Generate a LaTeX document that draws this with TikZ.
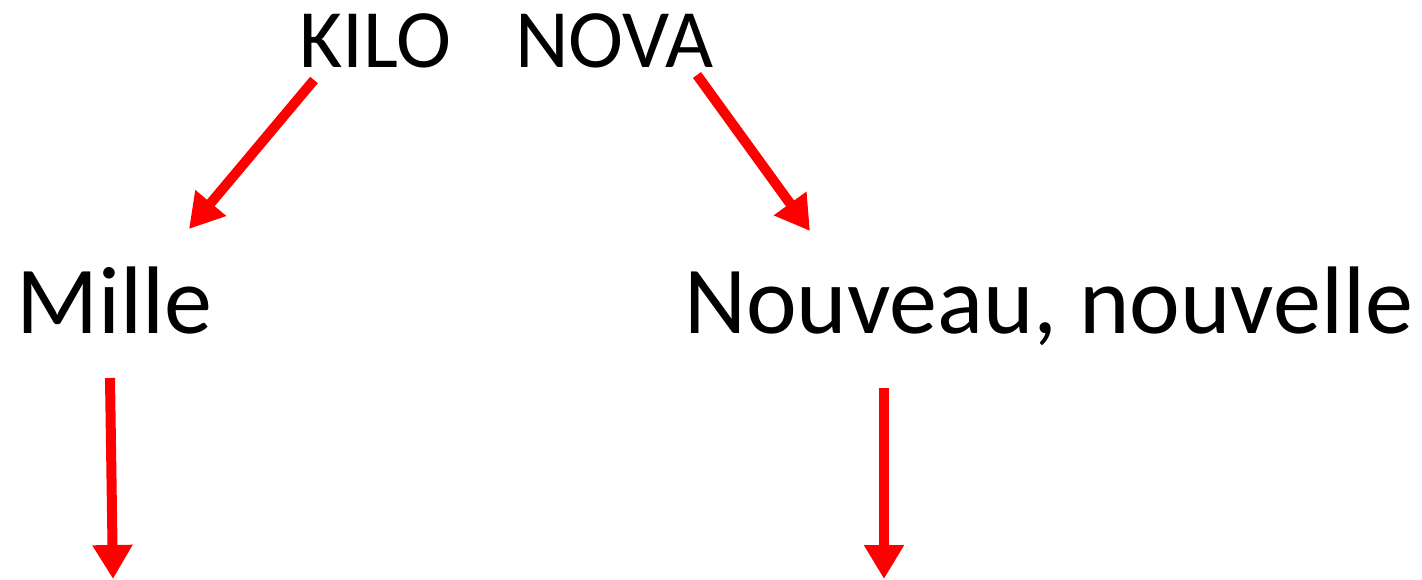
\documentclass[tikz,border=0pt]{standalone}
\usepackage{fontspec}
\setmainfont{Carlito}
\usetikzlibrary{arrows.meta}
\definecolor{arrred}{RGB}{255,0,0}
\begin{document}
\begin{tikzpicture}[x=1pt,y=-1pt,
  word/.style={inner sep=0pt,anchor=base west},
  small/.style={word,font=\fontsize{83}{100}\selectfont},
  big/.style={word,font=\fontsize{96}{115}\selectfont},
  redarrow/.style={draw=arrred,line width=10pt,
    -{Triangle[length=34pt,width=38pt]}}]
\useasboundingbox (0,0) rectangle (1422,580);
\node[small] (kilo) at (299,68) {KILO};
\node[small] (nova) at (515,68) {NOVA};
\node[big] (mille) at (16,333) {Mille};
\node[big] (nouv) at (684,333) {Nouveau, nouvelle};
\coordinate (k0) at (314,80);
\coordinate (k1) at (189,229);
\coordinate (n0) at (697,75);
\coordinate (n1) at (810,231);
\coordinate (m0) at (110,378);
\coordinate (m1) at (113,579);
\coordinate (v0) at (884,388);
\coordinate (v1) at (884,579);
\draw[redarrow] (k0) -- (k1);
\draw[redarrow] (n0) -- (n1);
\draw[redarrow] (m0) -- (m1);
\draw[redarrow] (v0) -- (v1);
\end{tikzpicture}
\end{document}
